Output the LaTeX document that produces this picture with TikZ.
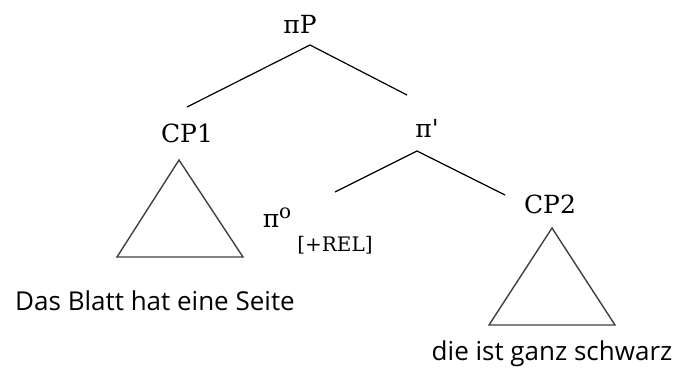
\documentclass[tikz,border=0pt]{standalone}
\usepackage{fontspec}
\newfontfamily\labelsans{Open Sans}
\newfontfamily\labelserif{DejaVu Serif}
\tikzset{
  cat/.style={inner sep=0pt, anchor=base, font=\labelserif\fontsize{25}{30}\selectfont},
  feat/.style={inner sep=0pt, anchor=base, font=\labelserif\fontsize{20}{24}\selectfont},
  words/.style={inner sep=0pt, anchor=base, font=\labelsans\fontsize{26}{30}\selectfont},
  branch/.style={line width=1.2pt},
  tri/.style={line width=1.4pt, draw=black!75}
}
\begin{document}
\begin{tikzpicture}[x=1pt,y=-1pt]
\useasboundingbox (0,0) rectangle (676,368);
% labels
\node[cat] (piP) at (300,33) {πP};
\node[cat] (CP1) at (187,142) {CP1};
\node[cat] (pibar) at (427,137) {π\textquotesingle};
\node[cat] (pi0) at (277,227) {π\raisebox{0.35em}{\fontsize{20}{24}\selectfont o}};
\node[feat] (rel) at (335,251) {[+REL]};
\node[cat] (CP2) at (550,213) {CP2};
\node[words] (s1) at (155,310) {Das Blatt hat eine Seite};
\node[words] (s2) at (552,360) {die ist ganz schwarz};
% branch points
\coordinate (piP-b) at (310,45);
\coordinate (CP1-t) at (187,107);
\coordinate (pibar-t) at (407,95);
\coordinate (pibar-b) at (417,151);
\coordinate (pi0-t) at (335,192);
\coordinate (CP2-t) at (505,195);
\draw[branch] (CP1-t) -- (piP-b) -- (pibar-t);
\draw[branch] (pi0-t) -- (pibar-b) -- (CP2-t);
% triangles
\coordinate (t1a) at (179,160);
\coordinate (t1l) at (117,257);
\coordinate (t1r) at (243,257);
\draw[tri] (t1a) -- (t1l) -- (t1r) -- cycle;
\coordinate (t2a) at (552,228);
\coordinate (t2l) at (489,325);
\coordinate (t2r) at (615,325);
\draw[tri] (t2a) -- (t2l) -- (t2r) -- cycle;
\end{tikzpicture}
\end{document}
